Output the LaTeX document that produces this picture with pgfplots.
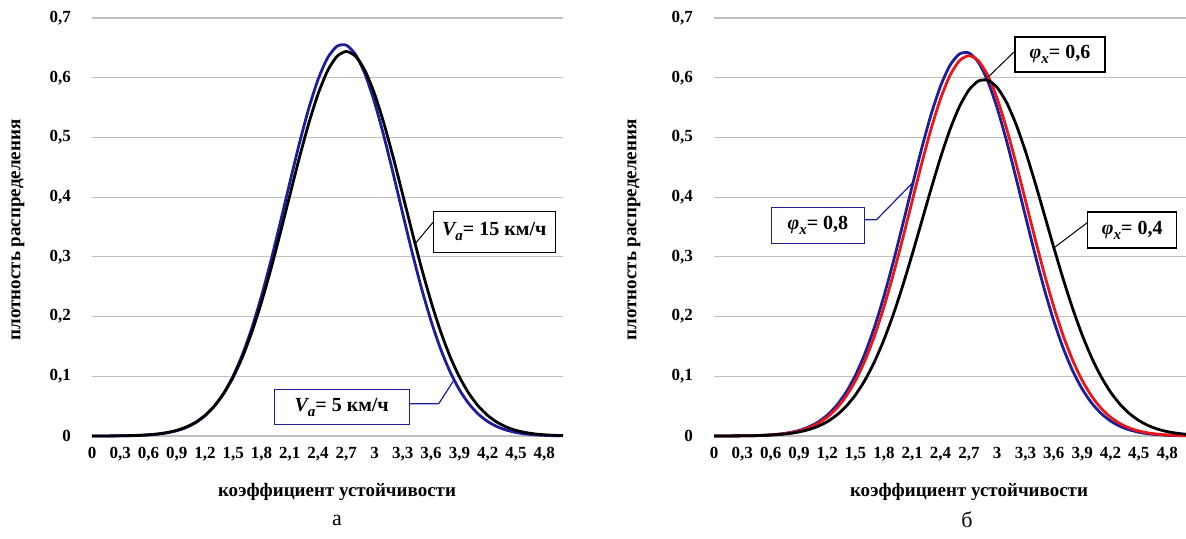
\documentclass[border=0pt]{standalone}
\usepackage{fontspec}
\setmainfont{Liberation Serif}
\usepackage{pgfplots}
\usepackage{pgfplotstable}
\pgfplotsset{compat=1.18}
\definecolor{cblue}{RGB}{30,30,155}
\definecolor{cred}{RGB}{236,22,22}
\definecolor{cgrid}{RGB}{192,192,192}

\pgfplotstableread{
x lb lk rb rr rk
0.0 0.0000 0.0000 0.0000 0.0000 0.0000
0.1 0.0001 0.0001 0.0001 0.0001 0.0001
0.2 0.0001 0.0002 0.0002 0.0002 0.0002
0.3 0.0003 0.0004 0.0003 0.0003 0.0003
0.4 0.0005 0.0007 0.0006 0.0005 0.0005
0.5 0.0010 0.0012 0.0011 0.0010 0.0009
0.6 0.0018 0.0021 0.0020 0.0018 0.0016
0.7 0.0032 0.0035 0.0034 0.0031 0.0026
0.8 0.0054 0.0059 0.0057 0.0051 0.0042
0.9 0.0089 0.0095 0.0093 0.0084 0.0068
1.0 0.0143 0.0150 0.0149 0.0134 0.0106
1.1 0.0223 0.0230 0.0231 0.0209 0.0161
1.2 0.0340 0.0345 0.0350 0.0316 0.0240
1.3 0.0503 0.0503 0.0514 0.0465 0.0350
1.4 0.0723 0.0715 0.0735 0.0668 0.0498
1.5 0.1012 0.0990 0.1023 0.0932 0.0691
1.6 0.1377 0.1334 0.1386 0.1266 0.0938
1.7 0.1824 0.1754 0.1826 0.1677 0.1245
1.8 0.2348 0.2246 0.2341 0.2161 0.1612
1.9 0.2941 0.2801 0.2921 0.2711 0.2039
2.0 0.3582 0.3405 0.3547 0.3312 0.2521
2.1 0.4244 0.4032 0.4190 0.3939 0.3045
2.2 0.4890 0.4652 0.4816 0.4562 0.3593
2.3 0.5480 0.5230 0.5387 0.5145 0.4142
2.4 0.5972 0.5728 0.5863 0.5649 0.4665
2.5 0.6331 0.6114 0.6209 0.6039 0.5133
2.6 0.6527 0.6357 0.6398 0.6285 0.5517
2.7 0.6545 0.6440 0.6416 0.6370 0.5794
2.8 0.6384 0.6357 0.6260 0.6285 0.5945
2.9 0.6056 0.6114 0.5943 0.6039 0.5959
3.0 0.5587 0.5728 0.5491 0.5649 0.5835
3.1 0.5013 0.5230 0.4936 0.5145 0.5583
3.2 0.4376 0.4652 0.4317 0.4562 0.5218
3.3 0.3714 0.4032 0.3675 0.3939 0.4764
3.4 0.3066 0.3405 0.3044 0.3312 0.4250
3.5 0.2462 0.2801 0.2452 0.2711 0.3704
3.6 0.1923 0.2246 0.1923 0.2161 0.3153
3.7 0.1461 0.1754 0.1468 0.1677 0.2623
3.8 0.1079 0.1334 0.1089 0.1266 0.2131
3.9 0.0775 0.0990 0.0787 0.0932 0.1692
4.0 0.0542 0.0715 0.0553 0.0668 0.1313
4.1 0.0368 0.0503 0.0379 0.0465 0.0995
4.2 0.0243 0.0345 0.0252 0.0316 0.0736
4.3 0.0157 0.0230 0.0163 0.0209 0.0533
4.4 0.0098 0.0150 0.0103 0.0134 0.0376
4.5 0.0060 0.0095 0.0063 0.0084 0.0260
4.6 0.0035 0.0059 0.0038 0.0051 0.0175
4.7 0.0020 0.0035 0.0022 0.0031 0.0115
4.8 0.0011 0.0021 0.0012 0.0018 0.0074
4.9 0.0006 0.0012 0.0007 0.0010 0.0047
5.0 0.0003 0.0007 0.0004 0.0005 0.0029
}\data

\pgfplotsset{
  myax/.style={
    scale only axis, width=235.5pt, height=209pt,
    xmin=0, xmax=5, ymin=0, ymax=0.7,
    axis line style={draw=none},
    major tick length=0pt,
    ymajorgrids, grid style={cgrid, line width=0.6pt},
    xtick={0,0.3,0.6,0.9,1.2,1.5,1.8,2.1,2.4,2.7,3,3.3,3.6,3.9,4.2,4.5,4.8},
    xticklabels={0,{0,3},{0,6},{0,9},{1,2},{1,5},{1,8},{2,1},{2,4},{2,7},3,{3,3},{3,6},{3,9},{4,2},{4,5},{4,8}},
    ytick={0,0.1,0.2,0.3,0.4,0.5,0.6,0.7},
    yticklabels={0,{0,1},{0,2},{0,3},{0,4},{0,5},{0,6},{0,7}},
    ticklabel style={font=\bfseries\fontsize{8.5}{10}\selectfont},
    xticklabel style={yshift=-2pt},
    yticklabel style={xshift=-7pt},
    clip=false,
  },
}
\tikzset{
  crv/.style={line width=1.4pt, line join=round, smooth, tension=0.4},
  lbl/.style={fill=white, line width=0.6pt, inner sep=1pt,
    font=\bfseries\fontsize{10}{12}\selectfont},
}
\newcommand{\Va}{{\itshape V}\raisebox{-0.55ex}{\fontsize{7.5}{8}\selectfont\itshape a}}
\newcommand{\phix}{{\itshape φ}\raisebox{-0.55ex}{\fontsize{7.5}{8}\selectfont\itshape x}}

\begin{document}
\begin{tikzpicture}
\path[use as bounding box] (0,0) rectangle (593pt,269pt);

\begin{axis}[myax, at={(46pt,51pt)}, anchor=south west]
  \addplot[crv, cblue] table[x=x, y=lb] {\data};
  \addplot[crv, black] table[x=x, y=lk] {\data};
  \draw[black, line width=0.5pt] (axis cs:3.62,0.358) -- (axis cs:3.43,0.322);
  \node[lbl, draw=black, minimum width=61pt, minimum height=20.5pt] at (axis cs:4.27,0.342) {\Va= 15 км/ч};
  \draw[cblue, line width=0.6pt] (axis cs:3.37,0.054) -- (axis cs:3.68,0.054) -- (axis cs:3.84,0.093);
  \node[lbl, draw=cblue, minimum width=67.5pt, minimum height=17.5pt] at (axis cs:2.65,0.048) {\Va= 5 км/ч};
\end{axis}

\begin{axis}[myax, at={(357pt,51pt)}, anchor=south west, width=236pt]
  \addplot[crv, cblue] table[x=x, y=rb] {\data};
  \addplot[crv, cred] table[x=x, y=rr] {\data};
  \addplot[crv, black] table[x=x, y=rk] {\data};
  \draw[black, line width=0.5pt] (axis cs:3.19,0.645) -- (axis cs:2.91,0.602);
  \node[lbl, draw=black, minimum width=45pt, minimum height=17.5pt] at (axis cs:3.665,0.639) {\phix= 0,6};
  \draw[cblue, line width=0.6pt] (axis cs:1.54,0.362) -- (axis cs:1.72,0.362) -- (axis cs:2.11,0.425);
  \node[lbl, draw=cblue, minimum width=46.5pt, minimum height=18pt] at (axis cs:1.10,0.352) {\phix= 0,8};
  \draw[black, line width=0.5pt] (axis cs:3.96,0.358) -- (axis cs:3.60,0.315);
  \node[lbl, draw=black, minimum width=44.5pt, minimum height=18pt] at (axis cs:4.43,0.345) {\phix= 0,4};
\end{axis}

\node[rotate=90, font=\bfseries\fontsize{9.5}{11}\selectfont] at (9pt,154pt) {плотность распределения};
\node[rotate=90, font=\bfseries\fontsize{9.5}{11}\selectfont] at (317pt,154pt) {плотность распределения};
\node[font=\bfseries\fontsize{9.5}{11}\selectfont] at (168.5pt,23pt) {коэффициент устойчивости};
\node[font=\bfseries\fontsize{9.5}{11}\selectfont] at (484.5pt,23pt) {коэффициент устойчивости};
\node[font=\fontsize{11}{13}\selectfont] at (168.5pt,9pt) {а};
\node[font=\fontsize{11}{13}\selectfont] at (483.5pt,9pt) {б};
\end{tikzpicture}
\end{document}
